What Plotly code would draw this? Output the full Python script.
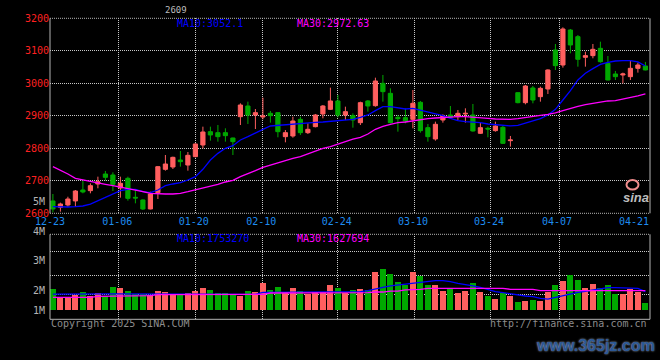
import plotly.graph_objects as go
import pandas as pd

# ---------------- data ----------------
holidays = ["2025-01-01", "2025-01-28", "2025-01-29", "2025-01-30", "2025-01-31",
            "2025-02-03", "2025-02-04", "2025-04-04"]
days = pd.bdate_range("2024-12-23", "2025-04-23")
days = [d for d in days if d.strftime("%Y-%m-%d") not in holidays]
dates = [d.strftime("%m-%d") for d in days]

open_ = [2637.9, 2618.4, 2625.6, 2638.0, 2671.7, 2669.7, 2690.2, 2720.9, 2717.9, 2677.8,
         2707.6, 2649.2, 2641.0, 2613.3, 2663.5, 2735.3, 2742.5, 2764.0, 2748.6, 2774.3,
         2810.2, 2851.2, 2848.1, 2848.1, 2831.7, 2897.3, 2930.2, 2902.5, 2896.3, 2907.6,
         2909.7, 2835.8, 2837.9, 2889.1, 2848.1, 2866.6, 2905.6, 2919.9, 2945.6, 2902.5,
         2900.4, 2878.9, 2945.6, 2931.2, 2999.9, 2969.1, 2895.3, 2894.3, 2889.1, 2941.4,
         2863.5, 2828.7, 2887.1, 2902.5, 2897.3, 2905.6, 2902.5, 2846.1, 2861.5, 2854.3,
         2864.5, 2823.5, 2971.2, 2940.4, 2985.6, 2958.9, 2982.5, 3102.5, 3056.3, 3164.0,
         3143.5, 3080.0, 3085.1, 3107.6, 3061.5, 3028.7, 3025.6, 3020.4, 3046.1, 3053.3]
high = [2659.4, 2632.7, 2651.0, 2671.7, 2700.4, 2692.2, 2712.7, 2730.2, 2726.1, 2712.7,
        2712.7, 2671.7, 2643.0, 2666.6, 2745.6, 2779.4, 2774.3, 2791.7, 2788.6, 2815.3,
        2866.6, 2866.6, 2871.7, 2861.5, 2832.7, 2938.4, 2943.5, 2920.9, 2955.8, 2914.8,
        2910.7, 2856.3, 2897.3, 2897.3, 2876.8, 2905.6, 2933.2, 2986.6, 2964.0, 2928.1,
        2907.6, 2943.5, 2948.6, 3017.3, 3025.6, 2984.5, 2902.5, 2923.0, 2979.4, 2945.6,
        2874.8, 2882.0, 2904.6, 2930.2, 2917.9, 2923.0, 2936.4, 2878.9, 2866.6, 2882.0,
        2868.7, 2837.9, 2972.2, 2994.8, 2991.7, 2989.6, 3043.0, 3121.0, 3172.2, 3167.1,
        3148.6, 3097.4, 3121.0, 3128.1, 3084.0, 3037.9, 3032.8, 3068.7, 3063.5, 3065.6]
low = [2603.0, 2605.0, 2620.0, 2620.0, 2661.5, 2661.5, 2676.9, 2700.4, 2668.6, 2648.1,
       2638.9, 2630.7, 2610.2, 2612.2, 2644.0, 2731.2, 2736.3, 2743.5, 2731.2, 2772.2,
       2799.9, 2823.5, 2820.4, 2820.4, 2779.4, 2871.7, 2874.8, 2859.4, 2889.1, 2878.9,
       2833.8, 2818.4, 2832.7, 2841.0, 2844.0, 2864.5, 2892.2, 2917.9, 2895.3, 2887.1,
       2863.5, 2871.7, 2912.7, 2928.1, 2943.5, 2876.8, 2851.2, 2876.8, 2861.5, 2848.1,
       2820.4, 2823.5, 2878.9, 2892.2, 2887.1, 2878.9, 2851.2, 2844.0, 2833.8, 2851.2,
       2813.3, 2805.1, 2938.4, 2935.3, 2938.4, 2943.5, 2967.1, 3041.0, 3048.1, 3092.2,
       3051.2, 3051.2, 3076.9, 3063.5, 3009.2, 3010.2, 2999.9, 3010.2, 3032.8, 3040.0]
close = [2613.3, 2628.7, 2644.0, 2668.6, 2665.6, 2685.0, 2697.3, 2710.7, 2689.2, 2692.2,
         2646.0, 2647.1, 2613.3, 2659.4, 2743.5, 2751.7, 2772.2, 2758.9, 2778.4, 2813.3,
         2850.2, 2841.0, 2835.8, 2838.9, 2820.4, 2933.2, 2902.5, 2909.7, 2899.4, 2900.4,
         2851.2, 2848.1, 2884.0, 2848.1, 2858.4, 2902.5, 2930.2, 2945.6, 2902.5, 2912.7,
         2887.1, 2940.4, 2930.2, 3007.1, 2974.3, 2878.9, 2891.2, 2884.0, 2938.4, 2854.3,
         2835.8, 2873.8, 2899.4, 2895.3, 2907.6, 2907.6, 2853.3, 2863.5, 2859.4, 2868.7,
         2815.3, 2825.6, 2940.4, 2991.7, 2948.6, 2984.5, 3041.0, 3054.3, 3167.1, 3117.9,
         3073.8, 3085.1, 3104.5, 3066.6, 3010.2, 3020.4, 3028.7, 3046.1, 3056.3, 3041.0]
ma10 = [2620.4, 2619.4, 2619.4, 2620.4, 2622.5, 2628.6, 2638.9, 2651.2, 2661.5, 2669.7,
        2673.8, 2673.8, 2666.6, 2663.5, 2671.7, 2685.1, 2690.2, 2694.3, 2702.5, 2712.7,
        2735.3, 2764.0, 2784.5, 2799.9, 2808.0, 2825.6, 2835.8, 2848.1, 2858.4, 2868.6,
        2870.7, 2870.7, 2874.8, 2876.8, 2878.9, 2879.9, 2881.0, 2883.0, 2886.1, 2887.1,
        2889.1, 2895.3, 2902.5, 2915.8, 2928.1, 2928.1, 2925.0, 2920.9, 2923.0, 2917.9,
        2911.7, 2905.6, 2900.4, 2892.2, 2885.0, 2882.0, 2881.0, 2878.9, 2874.8, 2872.8,
        2870.7, 2868.7, 2870.7, 2876.9, 2885.1, 2891.2, 2902.5, 2919.9, 2948.7, 2977.4,
        3010.2, 3030.7, 3045.1, 3058.4, 3064.5, 3068.6, 3069.7, 3069.7, 3065.6, 3053.3]
ma30 = [2743.5, 2733.3, 2721.0, 2707.6, 2702.5, 2697.3, 2692.2, 2689.2, 2685.1, 2679.9,
        2674.8, 2671.7, 2666.6, 2661.5, 2659.4, 2659.4, 2659.4, 2661.5, 2666.6, 2671.7,
        2676.8, 2682.0, 2689.2, 2696.3, 2701.5, 2712.7, 2720.9, 2731.2, 2741.5, 2748.6,
        2755.8, 2764.0, 2769.1, 2774.3, 2782.5, 2792.7, 2799.9, 2805.1, 2813.3, 2821.5,
        2828.6, 2833.8, 2844.0, 2858.4, 2867.6, 2873.8, 2878.9, 2881.0, 2885.0, 2888.2,
        2891.2, 2893.3, 2895.3, 2896.3, 2897.4, 2897.4, 2896.3, 2894.3, 2892.2, 2890.2,
        2889.2, 2889.2, 2891.2, 2895.3, 2898.4, 2901.5, 2904.6, 2908.7, 2915.8, 2923.0,
        2929.2, 2934.3, 2938.4, 2943.5, 2945.6, 2946.6, 2950.7, 2956.9, 2961.0, 2967.1]
volume = [2010000, 1240000, 1240000, 1450000, 1730000, 1300000, 1610000, 1360000, 2130000, 2100000,
          1820000, 1480000, 1480000, 1420000, 1820000, 1730000, 1480000, 1480000, 1640000, 1820000,
          2100000, 1920000, 1610000, 1610000, 1450000, 1300000, 1820000, 1730000, 2560000, 1920000,
          2190000, 1670000, 2100000, 1820000, 1480000, 1730000, 1730000, 2380000, 2100000, 1610000,
          1920000, 1980000, 1920000, 3520000, 3860000, 3400000, 2660000, 2320000, 3520000, 3150000,
          2380000, 2380000, 1820000, 2070000, 1580000, 1760000, 2560000, 1670000, 1360000, 1080000,
          1610000, 1300000, 740000, 830000, 990000, 830000, 1670000, 2320000, 2750000, 3240000,
          2840000, 2070000, 2410000, 2070000, 2380000, 1550000, 1550000, 1980000, 1700000, 650000]
vol_ma10 = [1530000, 1540000, 1540000, 1550000, 1550000, 1550000, 1550000, 1550000, 1550000, 1550000,
            1550000, 1550000, 1550000, 1520000, 1520000, 1520000, 1520000, 1520000, 1520000, 1520000,
            1520000, 1520000, 1520000, 1520000, 1520000, 1520000, 1520000, 1520000, 1700000, 1700000,
            1700000, 1700000, 1700000, 1700000, 1700000, 1700000, 1700000, 1700000, 1700000, 1700000,
            1730000, 1760000, 1860000, 1980000, 2160000, 2290000, 2380000, 2470000, 2530000, 2660000,
            2750000, 2780000, 2780000, 2690000, 2530000, 2380000, 2290000, 2160000, 1980000, 1760000,
            1670000, 1550000, 1420000, 1360000, 1300000, 1140000, 1080000, 1240000, 1420000, 1580000,
            1700000, 1800000, 1920000, 2040000, 2130000, 2130000, 2130000, 2130000, 2070000, 1760000]
vol_ma30 = [1240000, 1240000, 1240000, 1240000, 1240000, 1240000, 1330000, 1330000, 1330000, 1330000,
            1330000, 1390000, 1390000, 1390000, 1480000, 1480000, 1480000, 1480000, 1480000, 1480000,
            1480000, 1480000, 1480000, 1480000, 1480000, 1520000, 1520000, 1520000, 1520000, 1640000,
            1640000, 1640000, 1640000, 1640000, 1640000, 1640000, 1640000, 1640000, 1670000, 1670000,
            1670000, 1670000, 1670000, 1730000, 1730000, 1820000, 1820000, 1920000, 1920000, 1980000,
            2070000, 2070000, 2070000, 2070000, 2070000, 2070000, 2070000, 2070000, 2070000, 2070000,
            2070000, 1980000, 1980000, 1980000, 1980000, 1860000, 1860000, 1860000, 1860000, 1860000,
            1920000, 1920000, 1920000, 1920000, 1920000, 1920000, 1920000, 1860000, 1860000, 1860000]

tick_labels = ["12-23", "01-06", "01-20", "02-10", "02-24", "03-10", "03-24", "04-07", "04-21"]
grid_dates = ["01-06", "01-20", "02-10", "02-24", "03-10", "03-24", "04-07"]
price_ticks = [2600, 2700, 2800, 2900, 3000, 3100, 3200]
vol_tick_labels = ["5M", "4M", "3M", "2M", "1M"]
ma_price_text = ["MA10:3052.1", "MA30:2972.63"]
ma_vol_text = ["MA10:1753270", "MA30:1627694"]
title_text = "2609"

# ---------------- styling ----------------
W, H = 660, 360
RED = "#FF5F5F"
GREEN = "#00A800"
BLUE = "#0000FF"
MAG = "#FF00FF"
GRID = "#C8C8C8"
BORDER = "#B4B4B4"
MONO = "DejaVu Sans Mono, Liberation Mono, monospace"
DOT = "1px,1px"

def px(x):
    return x / W

def py(y):
    return 1 - y / H

idx = list(range(len(dates)))
# pixel centre of candle i = 52.9 + 7.5*i ; plot area 50..650 px
x_range = [(50 - 52.9) / 7.5, (650 - 52.9) / 7.5]
label_shift = [-0.38, 8.59 - 9, 18.77 - 19, 27.79 - 28, 37.85 - 38, 48.01 - 48, 58.15 - 58, 67.22 - 67, 77.48 - 77]
grid_shift = [8.77 - 9, 18.95 - 19, 27.88 - 28, 38.01 - 38, 48.15 - 48, 58.41 - 58, 67.48 - 67]
tick_pos = [dates.index(t) + s for t, s in zip(tick_labels, label_shift)]
grid_pos = [dates.index(t) + s for t, s in zip(grid_dates, grid_shift)]

main_dom = [py(213.3), py(18.3)]
vol_dom = [py(319.3), py(234.3)]
k = 10.8e-6  # px per share in volume panel; baseline at y=310.7
vol_range = [-(319.3 - 310.7) / k, (310.7 - 234.3) / k]
vol_grid = [(310.7 - y) / k for y in (251.7, 275.0, 294.3)]

fig = go.Figure()

fig.add_trace(go.Candlestick(
    x=idx, open=open_, high=high, low=low, close=close,
    increasing=dict(line=dict(color=RED, width=1), fillcolor=RED),
    decreasing=dict(line=dict(color=GREEN, width=1), fillcolor=GREEN),
    whiskerwidth=0, hoverinfo="skip", xaxis="x", yaxis="y",
))
fig.add_trace(go.Scatter(x=idx, y=ma10, mode="lines", line=dict(color=BLUE, width=1.3),
                         hoverinfo="skip", xaxis="x", yaxis="y"))
fig.add_trace(go.Scatter(x=idx, y=ma30, mode="lines", line=dict(color=MAG, width=1.3),
                         hoverinfo="skip", xaxis="x", yaxis="y"))

vol_colors = [RED if c >= o else GREEN for o, c in zip(open_, close)]
fig.add_trace(go.Bar(x=idx, y=volume, width=0.8, marker=dict(color=vol_colors, line=dict(width=0)),
                     hoverinfo="skip", xaxis="x2", yaxis="y2"))
fig.add_trace(go.Scatter(x=idx, y=vol_ma10, mode="lines", line=dict(color=BLUE, width=1.3),
                         hoverinfo="skip", xaxis="x2", yaxis="y2"))
fig.add_trace(go.Scatter(x=idx, y=vol_ma30, mode="lines", line=dict(color=MAG, width=1.3),
                         hoverinfo="skip", xaxis="x2", yaxis="y2"))

xcommon = dict(range=x_range, domain=[px(50), px(650)], showline=False, zeroline=False,
               showgrid=False, ticks="", fixedrange=True, automargin=False,
               minor=dict(tickmode="array", tickvals=grid_pos, showgrid=True,
                          gridcolor=GRID, griddash=DOT, gridwidth=1, ticks=""))

fig.update_layout(
    width=W, height=H, autosize=False, margin=dict(l=0, r=0, t=0, b=0, pad=0),
    paper_bgcolor="black", plot_bgcolor="black", showlegend=False,
    boxgap=0.2, bargap=0,
    xaxis=dict(xcommon, anchor="y", tickmode="array", tickvals=tick_pos, ticktext=tick_labels,
               tickfont=dict(family=MONO, size=10, color="#1E8CF0"), ticklabelstandoff=1,
               rangeslider=dict(visible=False)),
    yaxis=dict(domain=main_dom, range=[2600, 3200], tickmode="array", tickvals=price_ticks,
               ticktext=[str(v) for v in price_ticks], tickfont=dict(family=MONO, size=10, color="#FF2020"),
               showgrid=True, gridcolor=GRID, griddash=DOT, gridwidth=1, zeroline=False,
               showline=False, ticks="", fixedrange=True, automargin=False),
    xaxis2=dict(xcommon, anchor="y2", showticklabels=False),
    yaxis2=dict(domain=vol_dom, range=vol_range, tickmode="array", tickvals=vol_grid,
                showticklabels=False, showgrid=True, gridcolor=GRID, griddash=DOT, gridwidth=1,
                zeroline=False, showline=False, ticks="", fixedrange=True, automargin=False),
)

# panel borders
shapes = []
for xa, ya, bottom_dash in (("x", "y", DOT), ("x2", "y2", "solid")):
    xr, yr = xa + " domain", ya + " domain"
    shapes += [
        dict(type="line", xref=xr, yref=yr, x0=0, x1=0, y0=0, y1=1, line=dict(color=BORDER, width=1)),
        dict(type="line", xref=xr, yref=yr, x0=1, x1=1, y0=0, y1=1, line=dict(color=BORDER, width=1)),
        dict(type="line", xref=xr, yref=yr, x0=0, x1=1, y0=1, y1=1, line=dict(color=BORDER, width=1, dash=DOT)),
        dict(type="line", xref=xr, yref=yr, x0=0, x1=1, y0=0, y1=0, line=dict(color=BORDER, width=1, dash=bottom_dash)),
    ]
# sina logo eye
shapes.append(dict(type="circle", xref="paper", yref="paper", x0=px(626.5), x1=px(638.5),
                   y0=py(189.5), y1=py(180), line=dict(color="#F08C8C", width=2)))
fig.update_layout(shapes=shapes)

ann = []
def text(x, y, s, color, size=10, xanchor="left", family=MONO, **kw):
    ann.append(dict(x=px(x), y=py(y), xref="paper", yref="paper", text=s, showarrow=False,
                    xanchor=xanchor, yanchor="middle",
                    font=dict(family=family, size=size, color=color, **kw)))

text(175, 24, ma_price_text[0], BLUE)
text(295, 24, ma_price_text[1], MAG)
text(175, 238.5, ma_vol_text[0], BLUE)
text(295, 238.5, ma_vol_text[1], MAG)
for lab, y in zip(vol_tick_labels, (201, 231.5, 260.7, 290.7, 310.3)):
    text(47, y, lab, "#B4B4B4", xanchor="right")
text(176, 10.4, title_text, "#BBBBBB", size=9, xanchor="center")
text(49, 323.5, "Copyright 2025 SINA.COM", "#8C8C8C")
text(649, 323.5, "http://finance.sina.com.cn", "#8C8C8C", xanchor="right")
text(636, 197.5, "sina", "#BDBDBD", size=13, xanchor="center",
     family="Liberation Sans, Arial, sans-serif", style="italic", weight="bold")
text(595, 345, "www.365jz.com", "#2B5896", size=16, xanchor="center",
     family="Liberation Sans, Arial, sans-serif", weight="bold", shadow="0px 0px 2px #B8C6D8")
fig.update_layout(annotations=ann)

fig.write_html("out.html", config={"responsive": False, "displayModeBar": False},
               post_script="document.body.style.margin='0px';document.body.style.overflow='hidden';")
